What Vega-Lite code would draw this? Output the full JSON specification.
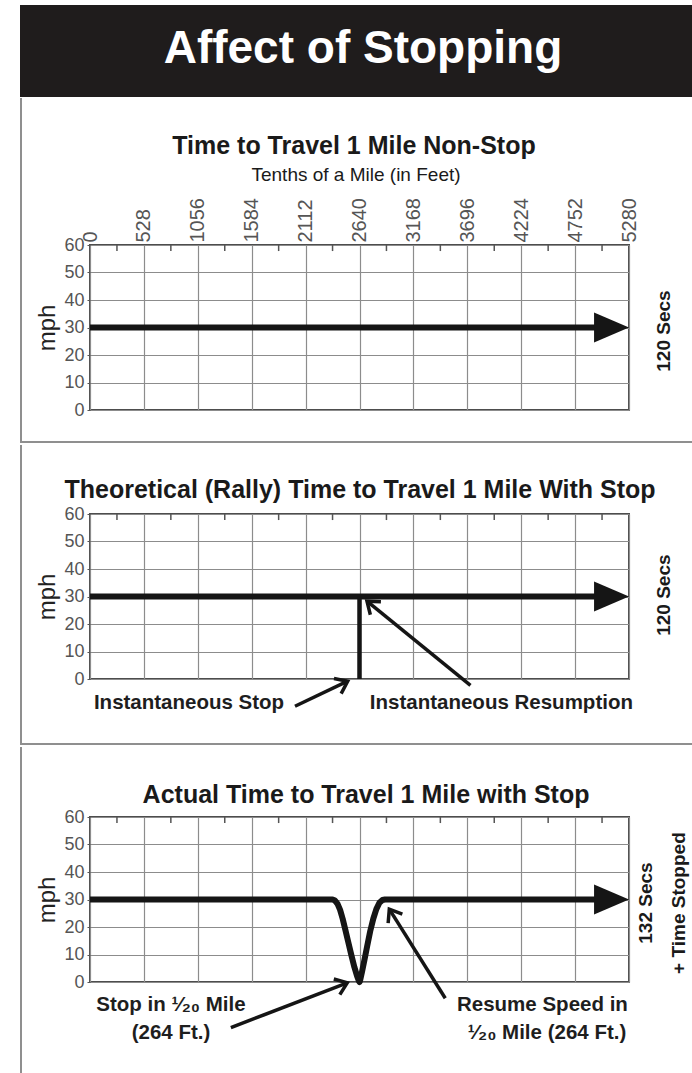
{
  "$schema": "https://vega.github.io/schema/vega-lite/v6.json",
  "padding": {"left": 19, "top": 5, "right": 0, "bottom": 0},
  "background": "#ffffff",
  "spacing": 0,
  "config": {
    "font": "Liberation Sans, Arial, sans-serif",
    "view": {"stroke": "#4d4d4d", "strokeWidth": 2},
    "axis": {"gridColor": "#8c8c8c", "gridWidth": 1.2, "gridOpacity": 1, "domain": false}
  },
  "vconcat": [
    {
      "width": 539, "height": 92,
      "view": {"stroke": null},
      "encoding": {
        "x": {"field": "x", "type": "quantitative", "scale": {"domain": [0, 5280], "nice": false, "zero": false}, "axis": null},
        "y": {"field": "y", "type": "quantitative", "scale": {"domain": [0, 1], "nice": false, "zero": false}, "axis": null}
      },
      "layer": [
        {
          "data": {"values": [{"x": -685.7, "x2": 5906.9, "y": 0, "y2": 1}]},
          "mark": {"type": "rect", "color": "#1f1c1c", "clip": false},
          "encoding": {"x2": {"field": "x2"}, "y2": {"field": "y2"}}
        },
        {
          "data": {"values": [{"x": 2674, "y": 0.52, "t": "Affect of Stopping"}]},
          "mark": {"type": "text", "fontSize": 46, "fontWeight": "bold", "color": "#ffffff", "align": "center", "baseline": "middle", "clip": false},
          "encoding": {"text": {"field": "t"}}
        }
      ]
    },
    {
      "width": 539, "height": 165,
      "encoding": {
        "x": {"field": "x", "type": "quantitative", "scale": {"domain": [0, 5280], "nice": false, "zero": false},
          "axis": {"orient": "top", "values": [0, 528, 1056, 1584, 2112, 2640, 3168, 3696, 4224, 4752, 5280], "tickCount": 20, "format": "d", "labelAngle": -90, "labelFontSize": 20, "labelColor": "#555555", "labelPadding": 3, "ticks": false, "tickSize": 0, "grid": true, "title": null, "labelFlush": false, "labelOverlap": false, "labelBound": false}},
        "y": {"field": "y", "type": "quantitative", "scale": {"domain": [0, 60], "nice": false, "zero": false},
          "axis": {"values": [0, 10, 20, 30, 40, 50, 60], "tickCount": 10, "labelFontSize": 18, "labelColor": "#555555", "labelPadding": 3, "tickSize": 3, "tickColor": "#555555", "grid": true, "title": "mph", "titleFontSize": 24, "titleFontWeight": "normal", "titleColor": "#222222", "titlePadding": 4, "labelFlush": false, "labelOverlap": false}}
      },
      "layer": [
        {
          "data": {"values": [{"x": 0, "x2": 5100, "y": 30}]},
          "mark": {"type": "rule", "strokeWidth": 6, "color": "#151515", "clip": false},
          "encoding": {"x2": {"field": "x2"}}
        },
        {
          "data": {"values": [{"x": 264, "y": 60, "y2": 57.8}, {"x": 792, "y": 60, "y2": 57.8}, {"x": 1320, "y": 60, "y2": 57.8}, {"x": 1848, "y": 60, "y2": 57.8}, {"x": 2376, "y": 60, "y2": 57.8}, {"x": 2904, "y": 60, "y2": 57.8}, {"x": 3432, "y": 60, "y2": 57.8}, {"x": 3960, "y": 60, "y2": 57.8}, {"x": 4488, "y": 60, "y2": 57.8}, {"x": 5016, "y": 60, "y2": 57.8}]},
          "mark": {"type": "rule", "strokeWidth": 1.5, "color": "#555555", "clip": false},
          "encoding": {"y2": {"field": "y2"}}
        },
        {
          "data": {"values": [{"x": 5280, "y": 30}]},
          "mark": {"type": "point", "shape": "M-2.33,-1L0,0L-2.33,1Z", "size": 900, "filled": true, "color": "#151515", "opacity": 1, "strokeWidth": 0, "clip": false}
        },
        {
          "data": {"values": [{"x": 5623, "y": 28.7, "t": "120  Secs"}]},
          "mark": {"type": "text", "angle": 270, "fontSize": 19, "fontWeight": "bold", "color": "#1a1a1a", "align": "center", "baseline": "middle", "clip": false},
          "encoding": {"text": {"field": "t"}}
        },
        {
          "data": {"values": [{"x": 2586, "y": 96, "t": "Time to Travel 1 Mile Non-Stop"}]},
          "mark": {"type": "text", "fontSize": 25, "fontWeight": "bold", "color": "#1a1a1a", "align": "center", "baseline": "middle", "clip": false},
          "encoding": {"text": {"field": "t"}}
        },
        {
          "data": {"values": [{"x": 2606, "y": 85.45, "t": "Tenths of a Mile (in Feet)"}]},
          "mark": {"type": "text", "fontSize": 19, "fontWeight": "normal", "color": "#1a1a1a", "align": "center", "baseline": "middle", "clip": false},
          "encoding": {"text": {"field": "t"}}
        },
        {
          "data": {"values": [{"x": -685.7, "x2": -666.1, "y": 113.45, "y2": -12.0}, {"x": -685.7, "x2": 5906.9, "y": -11.27, "y2": -12.0}]},
          "mark": {"type": "rect", "color": "#8f8f8f", "clip": false},
          "encoding": {"x2": {"field": "x2"}, "y2": {"field": "y2"}}
        }
      ]
    },
    {
      "width": 539, "height": 165,
      "encoding": {
        "x": {"field": "x", "type": "quantitative", "scale": {"domain": [0, 5280], "nice": false, "zero": false},
          "axis": {"orient": "top", "values": [0, 528, 1056, 1584, 2112, 2640, 3168, 3696, 4224, 4752, 5280], "tickCount": 20, "labels": false, "ticks": false, "tickSize": 0, "grid": true, "title": null}},
        "y": {"field": "y", "type": "quantitative", "scale": {"domain": [0, 60], "nice": false, "zero": false},
          "axis": {"values": [0, 10, 20, 30, 40, 50, 60], "tickCount": 10, "labelFontSize": 18, "labelColor": "#555555", "labelPadding": 3, "tickSize": 3, "tickColor": "#555555", "grid": true, "title": "mph", "titleFontSize": 24, "titleFontWeight": "normal", "titleColor": "#222222", "titlePadding": 4, "labelFlush": false, "labelOverlap": false}}
      },
      "layer": [
        {
          "data": {"values": [{"x": 0, "x2": 5100, "y": 30}]},
          "mark": {"type": "rule", "strokeWidth": 6, "color": "#151515", "clip": false},
          "encoding": {"x2": {"field": "x2"}}
        },
        {
          "data": {"values": [{"x": 2640, "y": 0, "y2": 30}]},
          "mark": {"type": "rule", "strokeWidth": 4.5, "color": "#151515", "clip": false},
          "encoding": {"y2": {"field": "y2"}}
        },
        {
          "data": {"values": [{"x": 264, "y": 60, "y2": 57.8}, {"x": 792, "y": 60, "y2": 57.8}, {"x": 1320, "y": 60, "y2": 57.8}, {"x": 1848, "y": 60, "y2": 57.8}, {"x": 2376, "y": 60, "y2": 57.8}, {"x": 2904, "y": 60, "y2": 57.8}, {"x": 3432, "y": 60, "y2": 57.8}, {"x": 3960, "y": 60, "y2": 57.8}, {"x": 4488, "y": 60, "y2": 57.8}, {"x": 5016, "y": 60, "y2": 57.8}]},
          "mark": {"type": "rule", "strokeWidth": 1.5, "color": "#555555", "clip": false},
          "encoding": {"y2": {"field": "y2"}}
        },
        {
          "data": {"values": [{"x": 5280, "y": 30}]},
          "mark": {"type": "point", "shape": "M-2.33,-1L0,0L-2.33,1Z", "size": 900, "filled": true, "color": "#151515", "opacity": 1, "strokeWidth": 0, "clip": false}
        },
        {
          "data": {"values": [{"x": 5623, "y": 30.5, "t": "120  Secs"}]},
          "mark": {"type": "text", "angle": 270, "fontSize": 19, "fontWeight": "bold", "color": "#1a1a1a", "align": "center", "baseline": "middle", "clip": false},
          "encoding": {"text": {"field": "t"}}
        },
        {
          "data": {"values": [{"x": 2645, "y": 68.7, "t": "Theoretical (Rally) Time to Travel 1 Mile With Stop"}]},
          "mark": {"type": "text", "fontSize": 25, "fontWeight": "bold", "color": "#1a1a1a", "align": "center", "baseline": "middle", "clip": false},
          "encoding": {"text": {"field": "t"}}
        },
        {
          "data": {"values": [{"x": 970, "y": -8.7, "t": "Instantaneous Stop"}, {"x": 4030, "y": -8.7, "t": "Instantaneous Resumption"}]},
          "mark": {"type": "text", "fontSize": 20.5, "fontWeight": "bold", "color": "#1e1e1e", "align": "center", "baseline": "middle", "clip": false},
          "encoding": {"text": {"field": "t"}}
        },
        {
          "data": {"values": [{"x": 3727, "y": -2.3, "x2": 2713, "y2": 28.3}, {"x": 2008, "y": -9.9, "x2": 2524, "y2": -0.8}]},
          "mark": {"type": "rule", "strokeWidth": 3.5, "color": "#151515", "clip": false},
          "encoding": {"x2": {"field": "x2"}, "y2": {"field": "y2"}}
        },
        {
          "data": {"values": [{"x": 2713, "y": 28.3, "a": 219.1}, {"x": 2524, "y": -0.8, "a": 334.6}]},
          "mark": {"type": "point", "shape": "M-1,-0.75L0,0L-1,0.75", "size": 500, "filled": false, "strokeWidth": 3.5, "color": "#151515", "opacity": 1, "clip": false},
          "encoding": {"angle": {"field": "a", "type": "quantitative", "scale": null}}
        },
        {
          "data": {"values": [{"x": -685.7, "x2": -666.1, "y": 85.09, "y2": -24.0}, {"x": -685.7, "x2": 5906.9, "y": -23.27, "y2": -24.0}]},
          "mark": {"type": "rect", "color": "#8f8f8f", "clip": false},
          "encoding": {"x2": {"field": "x2"}, "y2": {"field": "y2"}}
        }
      ]
    },
    {
      "width": 539, "height": 165,
      "encoding": {
        "x": {"field": "x", "type": "quantitative", "scale": {"domain": [0, 5280], "nice": false, "zero": false},
          "axis": {"orient": "top", "values": [0, 528, 1056, 1584, 2112, 2640, 3168, 3696, 4224, 4752, 5280], "tickCount": 20, "labels": false, "ticks": false, "tickSize": 0, "grid": true, "title": null}},
        "y": {"field": "y", "type": "quantitative", "scale": {"domain": [0, 60], "nice": false, "zero": false},
          "axis": {"values": [0, 10, 20, 30, 40, 50, 60], "tickCount": 10, "labelFontSize": 18, "labelColor": "#555555", "labelPadding": 3, "tickSize": 3, "tickColor": "#555555", "grid": true, "title": "mph", "titleFontSize": 24, "titleFontWeight": "normal", "titleColor": "#222222", "titlePadding": 4, "labelFlush": false, "labelOverlap": false}}
      },
      "layer": [
        {
          "data": {"values": [{"x": 0, "y": 30}, {"x": 2376, "y": 30}, {"x": 2400, "y": 29.6}, {"x": 2425, "y": 28.4}, {"x": 2450, "y": 26.2}, {"x": 2475, "y": 23}, {"x": 2500, "y": 19.2}, {"x": 2530, "y": 14.5}, {"x": 2560, "y": 9.8}, {"x": 2590, "y": 5.4}, {"x": 2615, "y": 2.3}, {"x": 2635, "y": 0.3}, {"x": 2640, "y": 0}, {"x": 2645, "y": 0.4}, {"x": 2665, "y": 3.8}, {"x": 2690, "y": 8.3}, {"x": 2715, "y": 13}, {"x": 2745, "y": 18.5}, {"x": 2775, "y": 23}, {"x": 2805, "y": 26.5}, {"x": 2835, "y": 28.8}, {"x": 2865, "y": 29.8}, {"x": 2890, "y": 30}, {"x": 5100, "y": 30}]},
          "mark": {"type": "line", "strokeWidth": 6, "color": "#151515", "strokeJoin": "round", "clip": false}
        },
        {
          "data": {"values": [{"x": 264, "y": 60, "y2": 57.8}, {"x": 792, "y": 60, "y2": 57.8}, {"x": 1320, "y": 60, "y2": 57.8}, {"x": 1848, "y": 60, "y2": 57.8}, {"x": 2376, "y": 60, "y2": 57.8}, {"x": 2904, "y": 60, "y2": 57.8}, {"x": 3432, "y": 60, "y2": 57.8}, {"x": 3960, "y": 60, "y2": 57.8}, {"x": 4488, "y": 60, "y2": 57.8}, {"x": 5016, "y": 60, "y2": 57.8}]},
          "mark": {"type": "rule", "strokeWidth": 1.5, "color": "#555555", "clip": false},
          "encoding": {"y2": {"field": "y2"}}
        },
        {
          "data": {"values": [{"x": 5280, "y": 30}]},
          "mark": {"type": "point", "shape": "M-2.33,-1L0,0L-2.33,1Z", "size": 900, "filled": true, "color": "#151515", "opacity": 1, "strokeWidth": 0, "clip": false}
        },
        {
          "data": {"values": [{"x": 5447, "y": 28.7, "t": "132  Secs"}, {"x": 5770, "y": 28.7, "t": "+ Time Stopped"}]},
          "mark": {"type": "text", "angle": 270, "fontSize": 19, "fontWeight": "bold", "color": "#1a1a1a", "align": "center", "baseline": "middle", "clip": false},
          "encoding": {"text": {"field": "t"}}
        },
        {
          "data": {"values": [{"x": 2704, "y": 68, "t": "Actual Time to Travel 1 Mile with Stop"}]},
          "mark": {"type": "text", "fontSize": 25, "fontWeight": "bold", "color": "#1a1a1a", "align": "center", "baseline": "middle", "clip": false},
          "encoding": {"text": {"field": "t"}}
        },
        {
          "data": {"values": [{"x": 793, "y": -8.4, "t": "Stop in ¹⁄₂₀  Mile"}, {"x": 793, "y": -18.5, "t": "(264 Ft.)"}, {"x": 4432, "y": -8.4, "t": "Resume Speed in"}, {"x": 4477, "y": -18.5, "t": "¹⁄₂₀ Mile (264 Ft.)"}]},
          "mark": {"type": "text", "fontSize": 20.5, "fontWeight": "bold", "color": "#1e1e1e", "align": "center", "baseline": "middle", "clip": false},
          "encoding": {"text": {"field": "t"}}
        },
        {
          "data": {"values": [{"x": 1380, "y": -16.6, "x2": 2520, "y2": -0.3}, {"x": 3480, "y": -5.9, "x2": 2932, "y2": 26.5}]},
          "mark": {"type": "rule", "strokeWidth": 3.5, "color": "#151515", "clip": false},
          "encoding": {"x2": {"field": "x2"}, "y2": {"field": "y2"}}
        },
        {
          "data": {"values": [{"x": 2520, "y": -0.3, "a": 338.9}, {"x": 2932, "y": 26.5, "a": 237.9}]},
          "mark": {"type": "point", "shape": "M-1,-0.75L0,0L-1,0.75", "size": 500, "filled": false, "strokeWidth": 3.5, "color": "#151515", "opacity": 1, "clip": false},
          "encoding": {"angle": {"field": "a", "type": "quantitative", "scale": null}}
        },
        {
          "data": {"values": [{"x": -685.7, "x2": -666.1, "y": 85.45, "y2": -34.91}]},
          "mark": {"type": "rect", "color": "#8f8f8f", "clip": false},
          "encoding": {"x2": {"field": "x2"}, "y2": {"field": "y2"}}
        }
      ]
    }
  ]
}
